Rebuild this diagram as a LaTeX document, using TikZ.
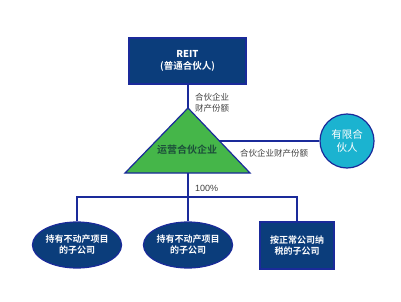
\documentclass[tikz,border=0pt]{standalone}
\usepackage{fontspec}
\newfontfamily\cjk{Noto Sans CJK SC}
\newfontfamily\cjkb{Noto Sans CJK SC Bold}
\setmainfont{Liberation Sans}
\usetikzlibrary{shapes.geometric}
\definecolor{navy}{HTML}{0B3D7B}
\definecolor{edgeblue}{HTML}{1A2A9A}
\definecolor{tgreen}{HTML}{45B649}
\definecolor{ccyan}{HTML}{1BB3D0}
\definecolor{lblgrey}{HTML}{404040}
\definecolor{dgreen}{HTML}{1C4F3A}
\tikzset{
  box/.style={draw=edgeblue, line width=1.2pt, fill=navy, text=white, inner sep=0pt, align=center, font=\cjkb\fontsize{9}{11}\selectfont},
  oval/.style={ellipse, draw=edgeblue, line width=1.2pt, fill=navy, text=white, inner sep=0pt, align=center, minimum width=82pt, minimum height=46pt, font=\cjkb\fontsize{9}{11}\selectfont},
  conn/.style={draw=edgeblue, line width=1.2pt},
  lbl/.style={text=lblgrey, font=\cjk\fontsize{8.5}{10.5}\selectfont, inner sep=0pt, align=left}
}
\begin{document}
\begin{tikzpicture}[x=1pt,y=-1pt]
\useasboundingbox (0,0) rectangle (401,302);
% REIT box
\node[box, minimum width=117pt, minimum height=46pt, font=\cjkb\fontsize{9.5}{12}\selectfont] (reit) at (187.5,61) {\textbf{REIT}\\(普通合伙人)};
% triangle
\coordinate (apex) at (188,108);
\coordinate (bl) at (125,173);
\coordinate (br) at (250,173);
\draw[draw=edgeblue, line width=1.2pt, fill=tgreen] (apex) -- (br) -- (bl) -- cycle;
\node[text=dgreen, font=\cjkb\fontsize{10}{12}\selectfont, inner sep=0pt] (opco) at (187,150) {运营合伙企业};
% circle
\node[circle, draw=edgeblue, line width=1.2pt, fill=ccyan, text=white, minimum size=54pt, inner sep=0pt, align=center, font=\cjk\fontsize{10.5}{13}\selectfont] (lp) at (347,141) {有限合\\伙人};
% connectors top
\draw[conn] (reit.south -| apex) -- (apex);
\coordinate (tr) at (219,141);
\draw[conn] (tr) -- (lp.west);
% labels
\node[lbl, anchor=west] (l1) at (195,103) {合伙企业\\财产份额};
\node[lbl, anchor=west] (l2) at (240,153) {合伙企业财产份额};
% bottom
\node[oval] (s1) at (77,245) {持有不动产项目\\的子公司};
\node[oval] (s2) at (188,245) {持有不动产项目\\的子公司};
\node[box, minimum width=74pt, minimum height=47pt] (s3) at (297,245.5) {按正常公司纳\\税的子公司};
\coordinate (bus) at (188,197);
\draw[conn] (188,173) -- (bus);
\draw[conn] (s1.north) -- (s1.north |- bus) -- (s3.north |- bus) -- (s3.north);
\draw[conn] (bus) -- (s2.north);
\node[text=lblgrey, font=\fontsize{9}{11}\selectfont, inner sep=0pt, anchor=west] (pct) at (195,188) {100\%};
\end{tikzpicture}
\end{document}
